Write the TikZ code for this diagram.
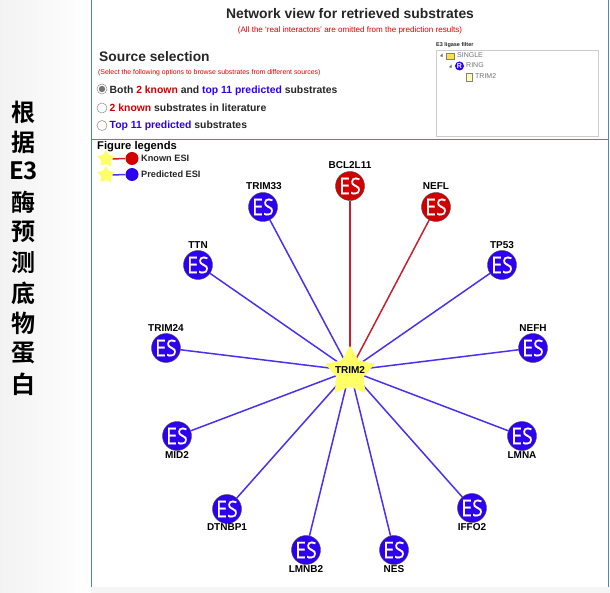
\documentclass[tikz,border=0pt]{standalone}
\usepackage{fontspec}
\setmainfont{Liberation Sans}
\newfontfamily\cjk{Noto Sans CJK SC}[BoldFont={Noto Sans CJK SC Bold}]
\newfontfamily\esfont[FakeStretch=0.85,FakeBold=0.4]{Open Sans}
\usetikzlibrary{shapes.geometric,backgrounds}
\definecolor{panelblue}{HTML}{4A86C5}
\definecolor{esred}{HTML}{D00000}
\definecolor{esblue}{HTML}{2E00F0}
\definecolor{linkblue}{HTML}{4A30F0}
\definecolor{linkred}{HTML}{C82030}
\definecolor{stary}{HTML}{FFFF66}
\definecolor{txt}{HTML}{262626}
\tikzset{
  x=1pt,y=-1pt,
  esnode/.style={circle,draw=black!70,line width=0.4pt,minimum size=29pt,inner sep=0pt,text=white,font=\esfont\fontsize{23}{23}\selectfont},
  known/.style={esnode,fill=esred},
  pred/.style={esnode,fill=esblue},
  lab/.style={font=\bfseries\fontsize{10}{10}\selectfont,text=black,inner sep=0pt},
  hub/.style={star,star points=5,star point ratio=1.8,fill=stary,draw=none,minimum size=52pt,inner sep=0pt},
  smallstar/.style={star,star points=5,star point ratio=1.8,fill=stary,draw=none,minimum size=18pt,inner sep=0pt},
  plink/.style={linkblue,line width=1.5pt},
  klink/.style={linkred,line width=1.5pt},
  radio/.style={circle,draw=black!45,fill=white,line width=0.5pt,minimum size=10pt,inner sep=0pt},
  opt/.style={anchor=west,inner sep=0pt,text=txt,font=\bfseries\fontsize{10.4}{10.4}\selectfont},
  side/.style={font=\cjk\bfseries\fontsize{24}{24}\selectfont,inner sep=0pt,text=black},
  tree/.style={anchor=west,inner sep=0pt,text=black!55,font=\fontsize{7}{7}\selectfont},
  leg/.style={anchor=west,inner sep=0pt,text=txt,font=\bfseries\fontsize{9.2}{9.2}\selectfont}
}
\begin{document}
\begin{tikzpicture}
\useasboundingbox (0,0) rectangle (610,593);
% side title
\node[side] (s1) at (23,112) {根};
\node[side] (s2) at (23,142) {据};
\node[side] (s3) at (23.5,171) {E3};
\node[side] (s4) at (23,202) {酶};
\node[side] (s5) at (23,232) {预};
\node[side] (s6) at (23,262) {测};
\node[side] (s7) at (23,293) {底};
\node[side] (s8) at (23,323) {物};
\node[side] (s9) at (23,353) {蛋};
\node[side] (s10) at (23,384) {白};
% header
\node[inner sep=0pt,text=txt,font=\bfseries\fontsize{13.9}{13.9}\selectfont] (title) at (350,14) {Network view for retrieved substrates};
\node[inner sep=0pt,text=red!90!black,font=\fontsize{8.05}{8.05}\selectfont] (sub) at (350,30) {(All the `real interactors' are omitted from the prediction results)};
\node[anchor=west,inner sep=0pt,text=txt,font=\bfseries\fontsize{13.8}{13.8}\selectfont] (src) at (99,57) {Source selection};
\node[anchor=west,inner sep=0pt,text=red!90!black,font=\fontsize{6.9}{6.9}\selectfont] (srcn) at (98,72.5) {(Select the following options to browse substrates from different sources)};
\node[radio] (r1) at (102,89) {};
\fill[black!55] (r1) circle (3.2);
\node[radio] (r2) at (102,108) {};
\node[radio] (r3) at (102,125.5) {};
\node[opt] (o1) at (109.5,90.5) {Both {\color{esred}2 known} and {\color{esblue}top 11 predicted} substrates};
\node[opt] (o2) at (109.5,108) {{\color{esred}2 known} substrates in literature};
\node[opt] (o3) at (109.5,126) {{\color{esblue}Top 11 predicted} substrates};
% filter
\node[anchor=west,inner sep=0pt,font=\bfseries\fontsize{5.5}{5.5}\selectfont,text=txt] (fl) at (436,45) {E3 ligase filter};
\draw[black!20,line width=0.7pt] (436.5,50.5) rectangle (598.5,136);
\fill[black!60] (440,56) -- (442.5,53.5) -- (442.5,57) -- cycle;
\fill[yellow!70!orange!70] (446,53) rectangle (454,59);
\draw[black!50,line width=0.3pt] (446,53) rectangle (454,59);
\node[tree] (t1) at (457,55.5) {SINGLE};
\fill[black!60] (449,67) -- (451.5,64.5) -- (451.5,68) -- cycle;
\node[circle,fill=esblue,text=white,inner sep=0pt,minimum size=9pt,font=\bfseries\fontsize{7}{7}\selectfont] (t2i) at (459.5,66) {R};
\node[tree] (t2) at (466,65.5) {RING};
\draw[black!50,fill=yellow!30,line width=0.3pt] (466,73) rectangle (472,81);
\node[tree] (t3) at (475,76) {TRIM2};
% legend
\node[anchor=west,inner sep=0pt,text=black,font=\bfseries\fontsize{11.2}{11.2}\selectfont] (fig) at (97,146.5) {Figure legends};
\node[smallstar] (ls1) at (106,159) {};
\node[circle,fill=esred,minimum size=13pt,inner sep=0pt] (lc1) at (132,158.5) {};
\node[smallstar] (ls2) at (106,175) {};
\node[circle,fill=esblue,minimum size=13pt,inner sep=0pt] (lc2) at (132,174.5) {};
\node[leg] (lt1) at (141,158.5) {Known ESI};
\node[leg] (lt2) at (141,174.5) {Predicted ESI};
% network
\node[hub] (hub) at (350,372) {};
\node[inner sep=0pt,font=\bfseries\fontsize{10}{10}\selectfont] (hubl) at (350,370.5) {TRIM2};
\node[known] (bcl) at (350,186) {ES};
\node[known] (nefl) at (436,207) {ES};
\node[pred] (tp) at (502,265) {ES};
\node[pred] (nefh) at (533,348) {ES};
\node[pred] (lmna) at (522,436) {ES};
\node[pred] (iffo) at (472,508) {ES};
\node[pred] (nes) at (394,550) {ES};
\node[pred] (lmnb) at (306,550) {ES};
\node[pred] (dtn) at (227,509) {ES};
\node[pred] (mid) at (177,436) {ES};
\node[pred] (t24) at (166,348) {ES};
\node[pred] (ttn) at (198,265) {ES};
\node[pred] (t33) at (263,207) {ES};
\node[lab] (lbcl) at (350,165) {BCL2L11};
\node[lab] (lnefl) at (436,186) {NEFL};
\node[lab] (ltp) at (502,245) {TP53};
\node[lab] (lnefh) at (533,328) {NEFH};
\node[lab] (llmna) at (522,455) {LMNA};
\node[lab] (liffo) at (472,527) {IFFO2};
\node[lab] (lnes) at (394,569) {NES};
\node[lab] (llmnb) at (306,569) {LMNB2};
\node[lab] (ldtn) at (227,527) {DTNBP1};
\node[lab] (lmid) at (177,455) {MID2};
\node[lab] (lt24) at (166,328) {TRIM24};
\node[lab] (lttn) at (198,245) {TTN};
\node[lab] (lt33) at (264,186) {TRIM33};
\begin{scope}[on background layer]
\shade[left color=black!5,right color=white] (0,0) rectangle (91,593);
\fill[white] (91,0) rectangle (610,587);
\fill[black!4] (91,587) rectangle (610,593);
\draw[panelblue,line width=0.9pt] (91.5,0) -- (91.5,587);
\draw[panelblue,line width=0.9pt] (608.5,0) -- (608.5,587);
\draw[panelblue,line width=0.9pt] (91.5,139.5) -- (608.5,139.5);
\draw[klink] (hubl.center) -- (bcl);
\draw[klink] (hubl.center) -- (nefl);
\foreach \n in {tp,nefh,lmna,iffo,nes,lmnb,dtn,mid,t24,ttn,t33}
  \draw[plink] (hubl.center) -- (\n);
\draw[klink] (ls1) -- (lc1);
\draw[plink] (ls2) -- (lc2);
\end{scope}
\end{tikzpicture}
\end{document}
